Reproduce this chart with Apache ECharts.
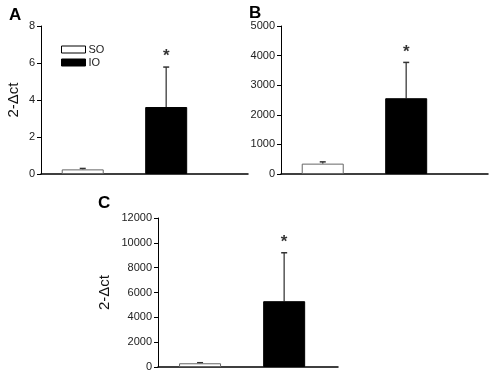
<!DOCTYPE html>
<html>
<head>
<meta charset="utf-8">
<script src="https://cdn.jsdelivr.net/npm/echarts@6/dist/echarts.min.js"></script>
<style>
html, body { margin: 0; padding: 0; background: #fff; }
#main { width: 493px; height: 374px; }
</style>
</head>
<body>
<div id="main"></div>
<script>
// groups and their x positions
var groups = ['SO', 'IO'];
var groupPos = [0.5, 1.5];

// panel A
var meanA = [0.25, 3.62];
var errTopA = [0.3, 5.78];
// panel B
var meanB = [350, 2560];
var errTopB = [410, 3770];
// panel C
var meanC = [300, 5300];
var errTopC = [345, 9200];

var yTicksA = [0, 8, 2];
var yTicksB = [0, 5000, 1000];
var yTicksC = [0, 12000, 2000];

var chart = echarts.init(document.getElementById('main'));

var fontFam = 'Liberation Sans, Arial, sans-serif';

function barSeries(name, idx, mean, gi) {
    return {
        name: name,
        type: 'bar',
        xAxisIndex: gi,
        yAxisIndex: gi,
        barWidth: 42,
        barGap: '-100%',
        silent: true,
        itemStyle: name == 'SO'
            ? { color: '#fff', borderColor: '#666', borderWidth: 1 }
            : { color: '#000', borderColor: '#000', borderWidth: 1 },
        data: [[groupPos[idx], mean[idx]]]
    };
}

function errSeries(mean, top, gi) {
    var d = [];
    for (var i = 0; i < mean.length; i++) {
        d.push([groupPos[i], mean[i], top[i]]);
    }
    return {
        type: 'custom',
        xAxisIndex: gi,
        yAxisIndex: gi,
        silent: true,
        z: 1,
        renderItem: function (params, api) {
            var p0 = api.coord([api.value(0), api.value(1)]);
            var p1 = api.coord([api.value(0), api.value(2)]);
            return {
                type: 'group',
                children: [
                    { type: 'line', shape: { x1: p0[0], y1: p0[1], x2: p1[0], y2: p1[1] }, style: { stroke: '#555', lineWidth: 1.5 } },
                    { type: 'line', shape: { x1: p1[0] - 3, y1: p1[1], x2: p1[0] + 3, y2: p1[1] }, style: { stroke: '#333', lineWidth: 1.5 } }
                ]
            };
        },
        data: d
    };
}

function starSeries(top, gi) {
    return {
        type: 'scatter',
        xAxisIndex: gi,
        yAxisIndex: gi,
        silent: true,
        symbolSize: 0,
        label: {
            show: true,
            formatter: '*',
            position: 'top',
            distance: 2,
            color: '#000',
            fontSize: 17,
            fontWeight: 'bold',
            fontFamily: fontFam
        },
        data: [[groupPos[1], top[1]]]
    };
}

function yAxisOf(ticks, gi, name, gap) {
    return {
        type: 'value',
        gridIndex: gi,
        min: ticks[0],
        max: ticks[1],
        interval: ticks[2],
        name: name,
        nameLocation: 'middle',
        nameGap: gap,
        nameTextStyle: { fontSize: 15, color: '#111', fontFamily: fontFam },
        splitLine: { show: false },
        axisLine: { show: true, lineStyle: { color: '#000', width: 1 } },
        axisTick: { show: true, length: 4, lineStyle: { color: '#000' } },
        axisLabel: {
            fontSize: 11, color: '#222', margin: 6, fontFamily: fontFam,
            formatter: function (v) { return String(v); }
        }
    };
}

function xAxisOf(gi, max) {
    return {
        type: 'value',
        gridIndex: gi,
        min: 0,
        max: max,
        splitLine: { show: false },
        axisLine: { show: true, onZero: false, lineStyle: { color: '#000', width: 1.5 } },
        axisTick: { show: false },
        axisLabel: { show: false }
    };
}

var option = {
    backgroundColor: '#fff',
    animation: false,
    title: [
        { text: 'A', left: 4, top: 2, textStyle: { fontSize: 17, fontWeight: 'bold', color: '#000', fontFamily: fontFam } },
        { text: 'B', left: 244, top: 0, textStyle: { fontSize: 17, fontWeight: 'bold', color: '#000', fontFamily: fontFam } },
        { text: 'C', left: 93, top: 190, textStyle: { fontSize: 17, fontWeight: 'bold', color: '#000', fontFamily: fontFam } }
    ],
    legend: {
        data: [
            { name: 'SO', itemStyle: { color: '#fff', borderColor: '#000', borderWidth: 1 } },
            { name: 'IO', itemStyle: { color: '#000', borderColor: '#000', borderWidth: 1 } }
        ],
        orient: 'vertical',
        left: 56,
        top: 39,
        itemWidth: 24,
        itemHeight: 7,
        itemGap: 2,
        icon: 'rect',
        selectedMode: false,
        textStyle: { fontSize: 11, color: '#222', fontFamily: fontFam, padding: [0, 0, 0, -2] }
    },
    grid: [
        { left: 41, top: 26, width: 207, height: 148 },
        { left: 281, top: 26, width: 207, height: 148 },
        { left: 158, top: 218, width: 180, height: 149 }
    ],
    xAxis: [xAxisOf(0, 2.48), xAxisOf(1, 2.48), xAxisOf(2, 2.14)],
    yAxis: [
        yAxisOf(yTicksA, 0, '2-\u0394ct', 20),
        yAxisOf(yTicksB, 1, '', 0),
        yAxisOf(yTicksC, 2, '2-\u0394ct', 46)
    ],
    series: [
        errSeries(meanA, errTopA, 0),
        barSeries('SO', 0, meanA, 0),
        barSeries('IO', 1, meanA, 0),
        starSeries(errTopA, 0),
        errSeries(meanB, errTopB, 1),
        barSeries('SO', 0, meanB, 1),
        barSeries('IO', 1, meanB, 1),
        starSeries(errTopB, 1),
        errSeries(meanC, errTopC, 2),
        barSeries('SO', 0, meanC, 2),
        barSeries('IO', 1, meanC, 2),
        starSeries(errTopC, 2)
    ]
};

chart.setOption(option);
</script>
</body>
</html>
